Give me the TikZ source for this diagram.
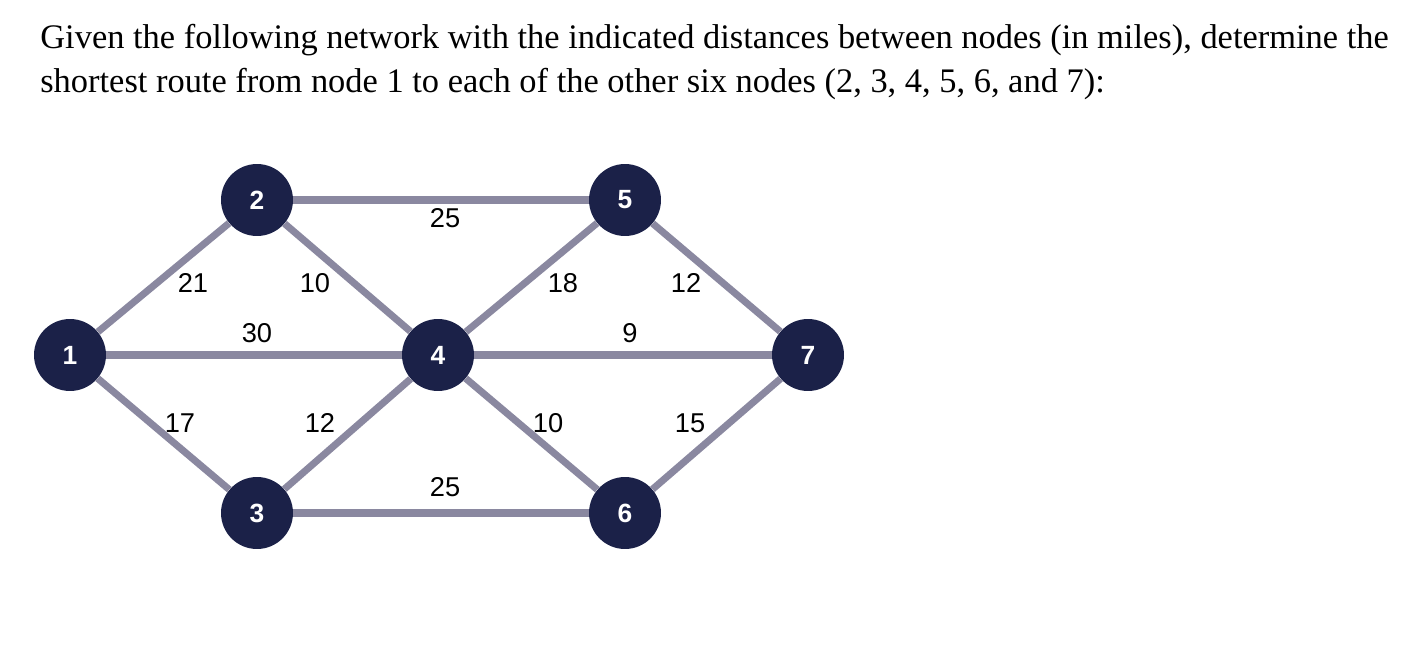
\documentclass[tikz,border=0pt]{standalone}
\usepackage{fontspec}
\setmainfont{Liberation Serif}
\newfontfamily\lsans{Liberation Sans}
\definecolor{nodec}{HTML}{1B2148}
\definecolor{edgec}{HTML}{8A88A0}
\begin{document}
\begin{tikzpicture}[x=0.02cm,y=-0.02cm,
  vtx/.style={circle,fill=nodec,minimum size=1.44cm,inner sep=0pt,text=white,font=\lsans\fontsize{15}{18}\selectfont\bfseries},
  edge/.style={draw=edgec,line width=4pt},
  lab/.style={font=\lsans\fontsize{15.5}{18}\selectfont,inner sep=0pt},
  ttl/.style={anchor=base west,inner sep=0pt,font=\fontsize{19.6}{22}\selectfont}]
\useasboundingbox (0,0) rectangle (1404,646);
\node[ttl] (t1) at (40,48) {Given the following network with the indicated distances between nodes (in miles), determine the};
\node[ttl] (t2) at (40,92) {shortest route from node 1 to each of the other six nodes (2, 3, 4, 5, 6, and 7):};
\node[vtx] (n1) at (70,355) {1};
\node[vtx] (n2) at (257,200) {2};
\node[vtx] (n3) at (257,513) {3};
\node[vtx] (n4) at (438,355) {4};
\node[vtx] (n5) at (625,200) {5};
\node[vtx] (n6) at (625,513) {6};
\node[vtx] (n7) at (808,355) {7};
\foreach \a/\b in {1/2,1/3,1/4,2/4,2/5,3/4,3/6,4/5,4/6,4/7,5/7,6/7}
  \draw[edge] (n\a) -- (n\b);
\node[lab] (l1) at (193,283) {21};
\node[lab] (l2) at (315,283) {10};
\node[lab] (l3) at (257,333) {30};
\node[lab] (l4) at (180,423) {17};
\node[lab] (l5) at (320,423) {12};
\node[lab] (l6) at (445,218) {25};
\node[lab] (l7) at (445,487) {25};
\node[lab] (l8) at (563,283) {18};
\node[lab] (l9) at (686,283) {12};
\node[lab] (l10) at (630,333) {9};
\node[lab] (l11) at (548,423) {10};
\node[lab] (l12) at (690,423) {15};
\end{tikzpicture}
\end{document}
